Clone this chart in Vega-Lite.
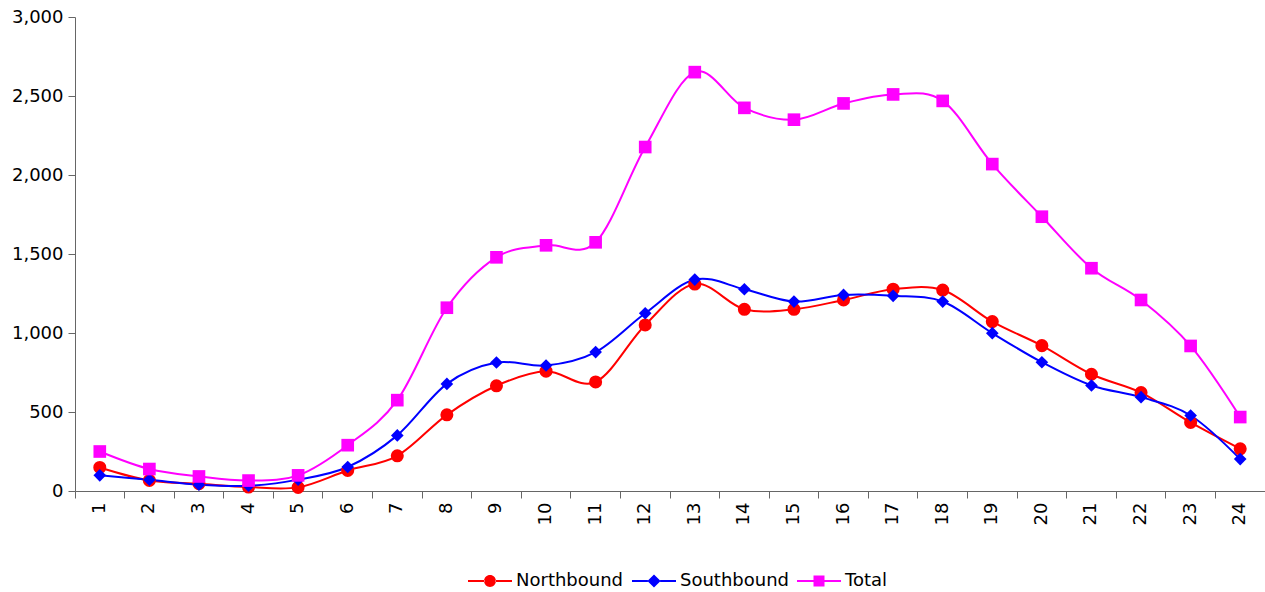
{
  "$schema": "https://vega.github.io/schema/vega-lite/v6.json",
  "autosize": {"type": "none"},
  "padding": {"left": 75, "top": 17, "right": 0, "bottom": 101},
  "width": 1190,
  "height": 474,
  "config": {
    "view": {"stroke": null},
    "font": "DejaVu Sans",
    "axis": {"labelFont": "DejaVu Sans", "labelFontSize": 18, "labelColor": "#000000", "domainColor": "#666666", "tickColor": "#666666", "grid": false, "title": null}
  },
  "data": {
    "values": [
      {"hour": 1, "series": "Northbound", "vehicles": 149},
      {"hour": 2, "series": "Northbound", "vehicles": 67},
      {"hour": 3, "series": "Northbound", "vehicles": 46},
      {"hour": 4, "series": "Northbound", "vehicles": 25},
      {"hour": 5, "series": "Northbound", "vehicles": 23},
      {"hour": 6, "series": "Northbound", "vehicles": 130},
      {"hour": 7, "series": "Northbound", "vehicles": 223},
      {"hour": 8, "series": "Northbound", "vehicles": 482},
      {"hour": 9, "series": "Northbound", "vehicles": 666},
      {"hour": 10, "series": "Northbound", "vehicles": 758},
      {"hour": 11, "series": "Northbound", "vehicles": 690},
      {"hour": 12, "series": "Northbound", "vehicles": 1051},
      {"hour": 13, "series": "Northbound", "vehicles": 1310},
      {"hour": 14, "series": "Northbound", "vehicles": 1150},
      {"hour": 15, "series": "Northbound", "vehicles": 1150},
      {"hour": 16, "series": "Northbound", "vehicles": 1209},
      {"hour": 17, "series": "Northbound", "vehicles": 1277},
      {"hour": 18, "series": "Northbound", "vehicles": 1272},
      {"hour": 19, "series": "Northbound", "vehicles": 1072},
      {"hour": 20, "series": "Northbound", "vehicles": 920},
      {"hour": 21, "series": "Northbound", "vehicles": 739},
      {"hour": 22, "series": "Northbound", "vehicles": 623},
      {"hour": 23, "series": "Northbound", "vehicles": 434},
      {"hour": 24, "series": "Northbound", "vehicles": 267},
      {"hour": 1, "series": "Southbound", "vehicles": 99},
      {"hour": 2, "series": "Southbound", "vehicles": 71},
      {"hour": 3, "series": "Southbound", "vehicles": 40},
      {"hour": 4, "series": "Southbound", "vehicles": 33},
      {"hour": 5, "series": "Southbound", "vehicles": 72},
      {"hour": 6, "series": "Southbound", "vehicles": 152},
      {"hour": 7, "series": "Southbound", "vehicles": 352},
      {"hour": 8, "series": "Southbound", "vehicles": 678},
      {"hour": 9, "series": "Southbound", "vehicles": 813},
      {"hour": 10, "series": "Southbound", "vehicles": 794},
      {"hour": 11, "series": "Southbound", "vehicles": 879},
      {"hour": 12, "series": "Southbound", "vehicles": 1125},
      {"hour": 13, "series": "Southbound", "vehicles": 1338},
      {"hour": 14, "series": "Southbound", "vehicles": 1277},
      {"hour": 15, "series": "Southbound", "vehicles": 1199},
      {"hour": 16, "series": "Southbound", "vehicles": 1241},
      {"hour": 17, "series": "Southbound", "vehicles": 1235},
      {"hour": 18, "series": "Southbound", "vehicles": 1199},
      {"hour": 19, "series": "Southbound", "vehicles": 999},
      {"hour": 20, "series": "Southbound", "vehicles": 815},
      {"hour": 21, "series": "Southbound", "vehicles": 668},
      {"hour": 22, "series": "Southbound", "vehicles": 594},
      {"hour": 23, "series": "Southbound", "vehicles": 478},
      {"hour": 24, "series": "Southbound", "vehicles": 202},
      {"hour": 1, "series": "Total", "vehicles": 250},
      {"hour": 2, "series": "Total", "vehicles": 139},
      {"hour": 3, "series": "Total", "vehicles": 92},
      {"hour": 4, "series": "Total", "vehicles": 66},
      {"hour": 5, "series": "Total", "vehicles": 99},
      {"hour": 6, "series": "Total", "vehicles": 290},
      {"hour": 7, "series": "Total", "vehicles": 575},
      {"hour": 8, "series": "Total", "vehicles": 1160},
      {"hour": 9, "series": "Total", "vehicles": 1479},
      {"hour": 10, "series": "Total", "vehicles": 1555},
      {"hour": 11, "series": "Total", "vehicles": 1574},
      {"hour": 12, "series": "Total", "vehicles": 2177},
      {"hour": 13, "series": "Total", "vehicles": 2651},
      {"hour": 14, "series": "Total", "vehicles": 2425},
      {"hour": 15, "series": "Total", "vehicles": 2350},
      {"hour": 16, "series": "Total", "vehicles": 2453},
      {"hour": 17, "series": "Total", "vehicles": 2510},
      {"hour": 18, "series": "Total", "vehicles": 2469},
      {"hour": 19, "series": "Total", "vehicles": 2069},
      {"hour": 20, "series": "Total", "vehicles": 1736},
      {"hour": 21, "series": "Total", "vehicles": 1410},
      {"hour": 22, "series": "Total", "vehicles": 1209},
      {"hour": 23, "series": "Total", "vehicles": 918},
      {"hour": 24, "series": "Total", "vehicles": 468}
    ]
  },
  "encoding": {
    "x": {
      "field": "hour", "type": "ordinal",
      "scale": {"type": "band", "paddingInner": 0, "paddingOuter": 0},
      "axis": {"labelAngle": -90, "bandPosition": 0, "tickSize": 7, "labelPadding": 4, "domainColor": "#666666"}
    },
    "y": {
      "field": "vehicles", "type": "quantitative",
      "scale": {"domain": [0, 3000], "nice": false, "zero": true},
      "axis": {"values": [0, 500, 1000, 1500, 2000, 2500, 3000], "format": ",.0f", "tickSize": 7, "labelPadding": 5}
    },
    "color": {
      "field": "series", "type": "nominal",
      "scale": {"domain": ["Northbound", "Southbound", "Total"], "range": ["#FF0000", "#0000FF", "#FF00FF"]},
      "legend": {
        "orient": "none", "legendX": 393, "legendY": 542, "direction": "horizontal", "title": null,
        "symbolSize": 1936, "labelFontSize": 18, "labelFont": "DejaVu Sans", "labelColor": "#000000", "labelOffset": 4, "columnPadding": 8,
        "symbolStrokeWidth": 0,
        "encode": {
          "symbols": {
            "update": {
              "shape": {"signal": "datum.value === 'Northbound' ? 'M-1,-0.045L-0.25,-0.045L-0.25,0.045L-1,0.045ZM0.25,-0.045L1,-0.045L1,0.045L0.25,0.045ZM-0.27,0A0.27,0.27,0,1,0,0.27,0A0.27,0.27,0,1,0,-0.27,0Z' : datum.value === 'Southbound' ? 'M-1,-0.045L-0.28,-0.045L-0.28,0.045L-1,0.045ZM0.28,-0.045L1,-0.045L1,0.045L0.28,0.045ZM0,-0.3L0.3,0L0,0.3L-0.3,0Z' : 'M-1,-0.045L-0.24,-0.045L-0.24,0.045L-1,0.045ZM0.24,-0.045L1,-0.045L1,0.045L0.24,0.045ZM-0.25,-0.25L0.25,-0.25L0.25,0.25L-0.25,0.25Z'"},
              "fill": {"signal": "datum.value === 'Northbound' ? '#FF0000' : datum.value === 'Southbound' ? '#0000FF' : '#FF00FF'"},
              "stroke": {"value": "transparent"},
              "strokeWidth": {"value": 0},
              "fillOpacity": {"value": 1},
              "opacity": {"value": 1}
            }
          }
        }
      }
    }
  },
  "layer": [
    {
      "mark": {"type": "line", "interpolate": "cardinal", "strokeWidth": 2},
      "encoding": {}
    },
    {
      "transform": [{"filter": "datum.series === 'Northbound'"}],
      "mark": {"type": "point", "filled": true, "opacity": 1, "size": 170, "shape": "circle"},
      "encoding": {}
    },
    {
      "transform": [{"filter": "datum.series === 'Southbound'"}],
      "mark": {"type": "point", "filled": true, "opacity": 1, "size": 160, "shape": "diamond"},
      "encoding": {}
    },
    {
      "transform": [{"filter": "datum.series === 'Total'"}],
      "mark": {"type": "point", "filled": true, "opacity": 1, "size": 160, "shape": "square"},
      "encoding": {}
    }
  ]
}
